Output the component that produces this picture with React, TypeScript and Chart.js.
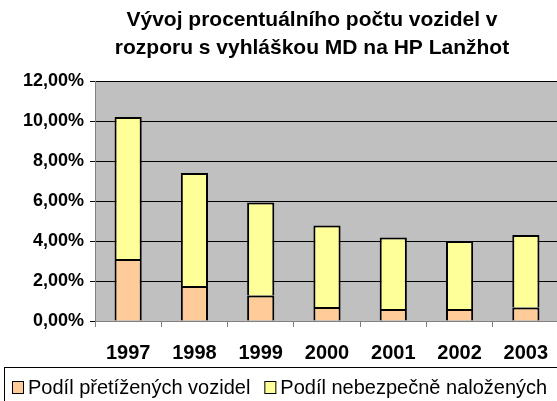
import React, { useEffect, useRef } from "react";
import { Chart, registerables } from "chart.js";

Chart.register(...registerables);

const categories = ["1997", "1998", "1999", "2000", "2001", "2002", "2003"];
const overloaded = [3.1, 1.75, 1.27, 0.7, 0.6, 0.6, 0.68];
const dangerous = [7.1, 5.65, 4.66, 4.07, 3.58, 3.4, 3.62];
const seriesLabels = ["Podíl přetížených vozidel", "Podíl nebezpečně naložených"];
const titleLines = ["Vývoj procentuálního počtu vozidel v", "rozporu s vyhláškou MD na HP Lanžhot"];

const FONT = "'Liberation Sans', Arial, sans-serif";
const W = 620;
const H = 430;

const decorPlugin = {
  id: "decor",
  beforeDraw(chart: any) {
    const { ctx, chartArea } = chart;
    ctx.save();
    ctx.fillStyle = "#ffffff";
    ctx.fillRect(0, 0, chart.width, chart.height);
    ctx.fillStyle = "#C0C0C0";
    ctx.fillRect(chartArea.left, chartArea.top, chartArea.right - chartArea.left, chartArea.bottom - chartArea.top);
    ctx.restore();
  },
  afterDraw(chart: any) {
    const { ctx } = chart;
    ctx.save();
    // title
    ctx.fillStyle = "#000";
    ctx.font = `bold 21px ${FONT}`;
    ctx.textAlign = "center";
    ctx.textBaseline = "alphabetic";
    titleLines.forEach((t, i) => ctx.fillText(t, 312, 26 + i * 28));
    // legend
    ctx.strokeStyle = "#000";
    ctx.lineWidth = 1;
    ctx.strokeRect(4.5, 367.5, 700, 60);
    ctx.font = `20px ${FONT}`;
    ctx.textAlign = "left";
    ctx.textBaseline = "alphabetic";
    let x = 12;
    chart.data.datasets.forEach((ds: any) => {
      ctx.fillStyle = ds.backgroundColor;
      ctx.fillRect(x, 381, 12, 13);
      ctx.strokeStyle = "#000";
      ctx.strokeRect(x + 0.5, 381.5, 11, 12);
      ctx.fillStyle = "#000";
      ctx.fillText(ds.label, x + 16, 394);
      x += 16 + ctx.measureText(ds.label).width + 14;
    });
    ctx.restore();
  },
};

export default function App() {
  const ref = useRef<HTMLCanvasElement>(null);
  useEffect(() => {
    const chart = new Chart(ref.current!, {
      type: "bar",
      data: {
        labels: categories,
        datasets: [
          { label: seriesLabels[0], data: overloaded, backgroundColor: "#FFCC99", borderColor: "#000", borderWidth: 2 },
          { label: seriesLabels[1], data: dangerous, backgroundColor: "#FFFF99", borderColor: "#000", borderWidth: 2 },
        ],
      },
      options: {
        responsive: false,
        animation: false,
        layout: { padding: { top: 81, right: W - 559, left: 0, bottom: 0 } },
        plugins: { legend: { display: false }, title: { display: false }, tooltip: { enabled: false } },
        datasets: { bar: { categoryPercentage: 1, barPercentage: 0.41 } },
        scales: {
          x: {
            stacked: true,
            offset: true,
            grid: { offset: true, drawOnChartArea: false, drawTicks: true, tickLength: 6, color: "#808080" },
            border: { color: "#808080" },
            ticks: { color: "#000", font: { family: FONT, size: 20, weight: "bold" }, padding: 14 },
            afterFit: (s: any) => { s.height = H - 321; },
          },
          y: {
            stacked: true,
            min: 0,
            max: 12,
            ticks: {
              stepSize: 2,
              color: "#000",
              font: { family: FONT, size: 18, weight: "bold" },
              padding: 6,
              callback: (v: any) => Number(v).toFixed(2).replace(".", ",") + "%",
            },
            grid: { color: "#000", lineWidth: 1, tickLength: 5 },
            border: { color: "#808080" },
            afterFit: (s: any) => { s.width = 95; },
          },
        },
      },
      plugins: [decorPlugin],
    });
    return () => chart.destroy();
  }, []);
  return (
    <div style={{ position: "absolute", left: 0, top: 0, width: W, height: H, overflow: "hidden" }}>
      <canvas ref={ref} width={W} height={H} style={{ display: "block" }} />
    </div>
  );
}
